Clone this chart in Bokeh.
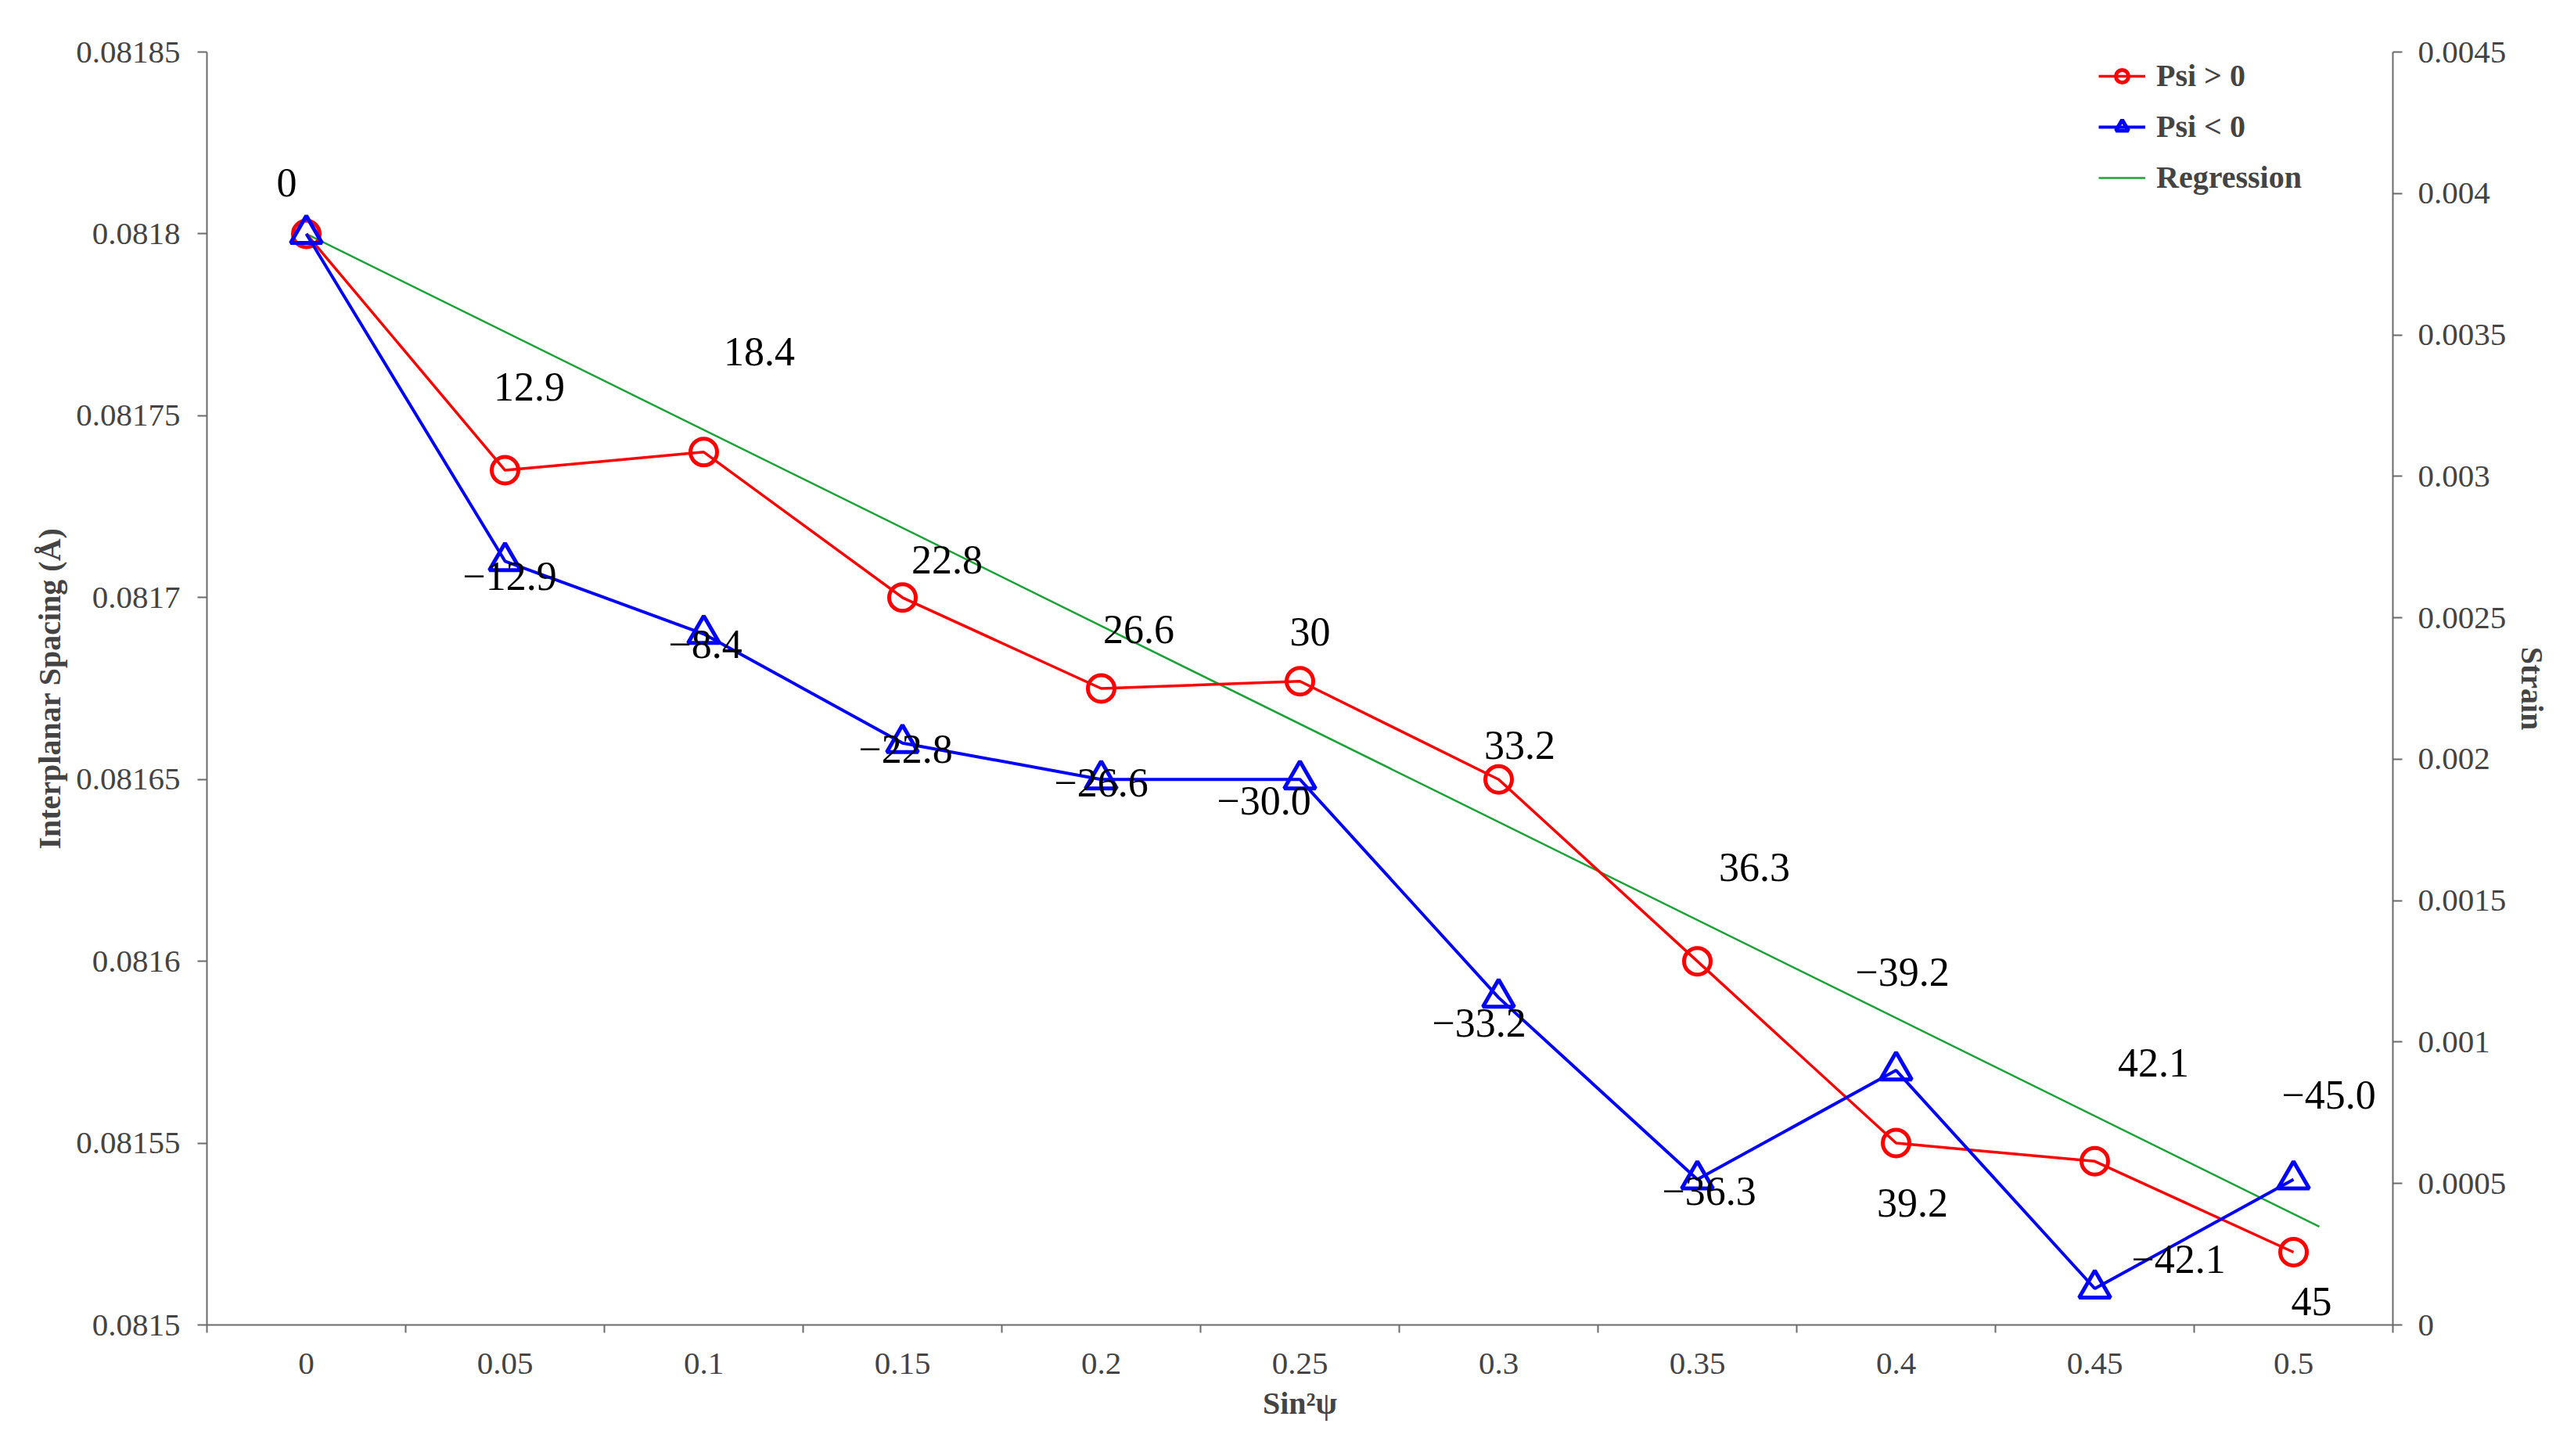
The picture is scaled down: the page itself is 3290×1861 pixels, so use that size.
from bokeh.plotting import figure
from bokeh.models import (Range1d, LinearAxis, FixedTicker, Legend, LegendItem,
                          ColumnDataSource)
from bokeh.core.properties import value
from bokeh.embed import file_html
from bokeh.resources import INLINE

# ---------------- data ----------------
sin2psi = [0.0, 0.05, 0.1, 0.15, 0.2, 0.25, 0.3, 0.35, 0.4, 0.45, 0.5]
x_tick_labels = ["0", "0.05", "0.1", "0.15", "0.2", "0.25", "0.3", "0.35", "0.4", "0.45", "0.5"]

d_psi_pos = [0.08180, 0.081735, 0.08174, 0.08170, 0.081675, 0.081677,
             0.08165, 0.08160, 0.08155, 0.081545, 0.08152]
d_psi_neg = [0.08180, 0.08171, 0.08169, 0.08166, 0.08165, 0.08165,
             0.08159, 0.08154, 0.08157, 0.08151, 0.08154]

reg_x = [0.0, 0.5065]
reg_y = [0.08180, 0.081527]

psi_pos_labels = ["0", "12.9", "18.4", "22.8", "26.6", "30", "33.2", "36.3", "39.2", "42.1", "45"]
psi_neg_labels = ["\u221212.9", "\u22128.4", "\u221222.8", "\u221226.6", "\u221230.0",
                  "\u221233.2", "\u221236.3", "\u221239.2", "\u221242.1", "\u221245.0"]

left_ticks = [0.0815, 0.08155, 0.0816, 0.08165, 0.0817, 0.08175, 0.0818, 0.08185]
left_tick_labels = ["0.0815", "0.08155", "0.0816", "0.08165", "0.0817", "0.08175", "0.0818", "0.08185"]
right_ticks = [0.0, 0.0005, 0.001, 0.0015, 0.002, 0.0025, 0.003, 0.0035, 0.004, 0.0045]
right_tick_labels = ["0", "0.0005", "0.001", "0.0015", "0.002", "0.0025", "0.003", "0.0035", "0.004", "0.0045"]

# label placement (screen px offsets; styling only)
pos_dx = [-25, 31, 71, 57, 48, 13, 27, 73, 21, 75, 23]
pos_dy = [-65, -107, -128, -48, -76, -63, -44, -120, 76, -126, 63]
neg_dx = [6, 2, 4, 0, -46, -25, 15, 8, 107, 45]
neg_dy = [19, 13, 8, 4, 27, 32, 15, -126, -38, -108]

FONT = "Liberation Serif"
RED = "#FF0000"
BLUE = "#0000FF"
GREEN = "#1BA339"
AXIS_COLOR = "#6b6b6b"
TICK_SIZE = "41px"

p = figure(frame_width=2794, frame_height=1627,
           min_border_left=264, min_border_right=216,
           min_border_top=66, min_border_bottom=152,
           x_range=Range1d(-0.025, 0.525),
           y_range=Range1d(0.0815, 0.08185),
           output_backend="svg", toolbar_location=None)
p.outline_line_color = None
p.grid.visible = False
p.background_fill_color = "white"
p.border_fill_color = "white"

# x axis
xa = p.xaxis[0]
xa.ticker = FixedTicker(ticks=sin2psi,
                        minor_ticks=[v - 0.025 for v in sin2psi] + [0.525])
xa.major_label_overrides = {v: s for v, s in zip(sin2psi, x_tick_labels)}
xa.major_tick_out = 0
xa.major_tick_in = 0
xa.minor_tick_out = 10
xa.minor_tick_in = 0
xa.minor_tick_line_color = AXIS_COLOR
xa.minor_tick_line_width = 2
xa.axis_line_color = AXIS_COLOR
xa.axis_line_width = 2
xa.major_label_text_font = FONT
xa.major_label_text_font_size = TICK_SIZE
xa.major_label_standoff = 26
xa.axis_label = "Sin\u00b2\u03c8"
xa.axis_label_text_font = FONT
xa.axis_label_text_font_style = "bold"
xa.axis_label_text_font_size = "40px"
xa.axis_label_standoff = 12

# left axis
ya = p.yaxis[0]
ya.ticker = FixedTicker(ticks=left_ticks, minor_ticks=[])
ya.major_label_overrides = {v: s for v, s in zip(left_ticks, left_tick_labels)}
ya.major_tick_out = 12
ya.major_tick_in = 0
ya.major_tick_line_color = AXIS_COLOR
ya.major_tick_line_width = 2
ya.axis_line_color = AXIS_COLOR
ya.axis_line_width = 2
ya.major_label_text_font = FONT
ya.major_label_text_font_size = TICK_SIZE
ya.major_label_standoff = 22
ya.axis_label = "Interplanar Spacing (\u00c5)"
ya.axis_label_text_font = FONT
ya.axis_label_text_font_style = "bold"
ya.axis_label_text_font_size = "40px"
ya.axis_label_standoff = 8

# right axis
p.extra_y_ranges = {"strain": Range1d(0.0, 0.0045)}
ra = LinearAxis(y_range_name="strain")
ra.ticker = FixedTicker(ticks=right_ticks, minor_ticks=[])
ra.major_label_overrides = {v: s for v, s in zip(right_ticks, right_tick_labels)}
ra.major_tick_out = 12
ra.major_tick_in = 0
ra.major_tick_line_color = AXIS_COLOR
ra.major_tick_line_width = 2
ra.axis_line_color = AXIS_COLOR
ra.axis_line_width = 2
ra.major_label_text_font = FONT
ra.major_label_text_font_size = TICK_SIZE
ra.major_label_standoff = 20
ra.axis_label = "Strain"
ra.axis_label_text_font = FONT
ra.axis_label_text_font_style = "bold"
ra.axis_label_text_font_size = "40px"
ra.axis_label_standoff = 8
p.add_layout(ra, "right")

# series
reg = p.line(reg_x, reg_y, line_color=GREEN, line_width=2.5)
r_line = p.line(sin2psi, d_psi_pos, line_color=RED, line_width=3.5)
r_pts = p.scatter(sin2psi, d_psi_pos, marker="circle", size=34, line_color=RED,
                  line_width=5, fill_color=None)
b_line = p.line(sin2psi, d_psi_neg, line_color=BLUE, line_width=4)
b_pts = p.scatter(sin2psi, d_psi_neg, marker="triangle", size=40, line_color=BLUE,
                  line_width=5, fill_color=None)

# data labels
src_pos = ColumnDataSource(dict(x=sin2psi, y=d_psi_pos, t=psi_pos_labels, dx=pos_dx, dy=pos_dy))
p.text(x="x", y="y", text="t", x_offset="dx", y_offset="dy", source=src_pos,
       text_font=value(FONT), text_font_size="52px", text_color="black",
       text_align="center", text_baseline="middle")
src_neg = ColumnDataSource(dict(x=sin2psi[1:], y=d_psi_neg[1:], t=psi_neg_labels, dx=neg_dx, dy=neg_dy))
p.text(x="x", y="y", text="t", x_offset="dx", y_offset="dy", source=src_neg,
       text_font=value(FONT), text_font_size="52px", text_color="black",
       text_align="center", text_baseline="middle")

legend = Legend(items=[
    LegendItem(label="Psi > 0", renderers=[r_line, r_pts]),
    LegendItem(label="Psi < 0", renderers=[b_line, b_pts]),
    LegendItem(label="Regression", renderers=[reg]),
], location=(2418, 1443))
legend.label_text_font = FONT
legend.label_text_font_style = "bold"
legend.label_text_font_size = "40px"
legend.glyph_width = 60
legend.glyph_height = 40
legend.label_height = 40
legend.label_standoff = 14
legend.spacing = 18
legend.padding = 0
legend.margin = 0
legend.border_line_color = None
legend.background_fill_alpha = 0
p.add_layout(legend, "center")

open("out.html", "w").write(file_html(p, INLINE))
